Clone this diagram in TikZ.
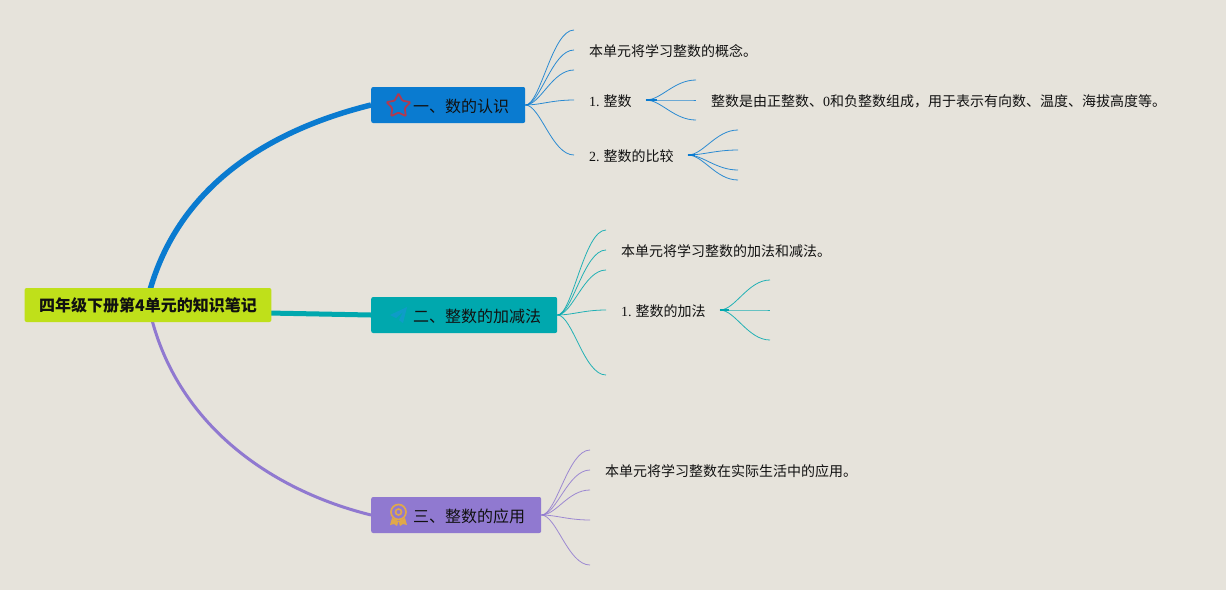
\documentclass[tikz,border=0pt]{standalone}
\usepackage{fontspec}
\usepackage{xcolor}
\setmainfont{Noto Sans CJK SC}
\newfontfamily\numfont{Liberation Serif}
\usetikzlibrary{shapes.geometric}
\definecolor{paper}{HTML}{E6E3DB}
\definecolor{lime}{HTML}{BFE01A}
\definecolor{blueA}{HTML}{0A7BD0}
\definecolor{tealB}{HTML}{00A8AE}
\definecolor{purpleC}{HTML}{9079D0}
\definecolor{inkT}{HTML}{111111}
\definecolor{starRed}{HTML}{B03A50}
\definecolor{planeBlue}{HTML}{0E9CC8}
\definecolor{medalGold}{HTML}{E0A84A}
\begin{document}
\begin{tikzpicture}[
    x=1pt, y=-1pt,
    rootbox/.style={fill=lime, rounded corners=2pt, minimum height=34pt, inner xsep=14.5pt, inner ysep=0pt, text=inkT, font=\fontsize{16}{18}\selectfont\bfseries},
    topic/.style={fill=#1, anchor=west, rounded corners=2pt, minimum height=36pt, inner xsep=16pt, inner ysep=0pt, text height=15.5pt, text depth=1pt, text=inkT, font=\fontsize{16}{18}\selectfont},
    note/.style={anchor=west, inner sep=0pt, text=inkT, font=\fontsize{14}{16}\selectfont},
    limb/.style={line width=#1},
    twig/.style={draw=#1, line width=0.8pt, draw opacity=0.85, out=0, in=180, out distance=15pt, in distance=22pt},
    stub/.style={draw=#1, line width=2pt}
]
\fill[paper] (0,0) rectangle (1226,590);
\useasboundingbox (0,0) rectangle (1226,590);

% main branches
\draw[blueA, limb=5.5pt] (150,290) .. controls (180,185) and (270,130) .. (371,105);
\draw[tealB, limb=5pt] (268,313) -- (371,315);
\draw[purpleC, limb=3pt] (152,320) .. controls (180,425) and (270,490) .. (371,515);

% nodes
\node[rootbox] (root) at (148,305) {四年级下册第4单元的知识笔记};
\node[topic=blueA] (topicA) at (371,105) {\hspace*{26pt}一、数的认识};
\node[topic=tealB] (topicB) at (371,315) {\hspace*{26pt}二、整数的加减法};
\node[topic=purpleC] (topicC) at (371,515) {\hspace*{26pt}三、整数的应用};

\node[note] (noteA) at (589,51) {本单元将学习整数的概念。};
\node[note] (intA) at (589,101) {{\numfont 1.}\hspace{4pt}整数};
\node[note] (defA) at (711,101) {整数是由正整数、{\numfont 0}和负整数组成，用于表示有向数、温度、海拔高度等。};
\node[note] (cmpA) at (589,156) {{\numfont 2.}\hspace{4pt}整数的比较};
\node[note] (noteB) at (621,251) {本单元将学习整数的加法和减法。};
\node[note] (addB) at (621,311) {{\numfont 1.}\hspace{4pt}整数的加法};
\node[note] (noteC) at (605,471) {本单元将学习整数在实际生活中的应用。};

% free ends
\coordinate (a1) at (574,30);
\coordinate (a2) at (574,50);
\coordinate (a3) at (574,70);
\coordinate (a4) at (574,100);
\coordinate (a5) at (574,155);
\coordinate (ia) at (646,100);
\coordinate (ia1) at (696,80);
\coordinate (ia2) at (696,100);
\coordinate (ia3) at (696,120);
\coordinate (ca) at (688,155);
\coordinate (ca1) at (738,130);
\coordinate (ca2) at (738,150);
\coordinate (ca3) at (738,170);
\coordinate (ca4) at (738,180);
\coordinate (b1) at (606,230);
\coordinate (b2) at (606,250);
\coordinate (b3) at (606,270);
\coordinate (b4) at (606,310);
\coordinate (b5) at (606,375);
\coordinate (ab) at (720,310);
\coordinate (ab1) at (770,280);
\coordinate (ab2) at (770,310);
\coordinate (ab3) at (770,340);
\coordinate (c1) at (590,450);
\coordinate (c2) at (590,470);
\coordinate (c3) at (590,490);
\coordinate (c4) at (590,520);
\coordinate (c5) at (590,565);

% thin branches
\draw[twig=blueA] (topicA.east) to (a1);
\draw[twig=blueA] (topicA.east) to (a2);
\draw[twig=blueA] (topicA.east) to (a3);
\draw[twig=blueA] (topicA.east) to (a4);
\draw[twig=blueA] (topicA.east) to (a5);
\draw[twig=blueA] (ia) to (ia1);
\draw[twig=blueA] (ia) to (ia2);
\draw[twig=blueA] (ia) to (ia3);
\draw[stub=blueA] (ia) -- +(11,0);
\draw[twig=blueA] (ca) to (ca1);
\draw[twig=blueA] (ca) to (ca2);
\draw[twig=blueA] (ca) to (ca3);
\draw[twig=blueA] (ca) to (ca4);
\draw[stub=blueA] (ca) -- +(7,0);
\draw[twig=tealB] (topicB.east) to (b1);
\draw[twig=tealB] (topicB.east) to (b2);
\draw[twig=tealB] (topicB.east) to (b3);
\draw[twig=tealB] (topicB.east) to (b4);
\draw[twig=tealB] (topicB.east) to (b5);
\draw[twig=tealB] (ab) to (ab1);
\draw[twig=tealB] (ab) to (ab2);
\draw[twig=tealB] (ab) to (ab3);
\draw[stub=tealB] (ab) -- +(9,0);
\draw[twig=purpleC] (topicC.east) to (c1);
\draw[twig=purpleC] (topicC.east) to (c2);
\draw[twig=purpleC] (topicC.east) to (c3);
\draw[twig=purpleC] (topicC.east) to (c4);
\draw[twig=purpleC] (topicC.east) to (c5);

% icons
\node[star, star points=5, star point ratio=1.9, draw=starRed, line width=1.8pt, rounded corners=1pt, minimum size=25pt, inner sep=0pt] (starA) at (398.5,106) {};
\fill[planeBlue] (407,307) -- (390,315) -- (396,318) -- (403,312) -- (399,320) -- (403,323) -- cycle;
\draw[medalGold, line width=1.7pt] (398.5,512) circle (7.5pt) (398.5,512) circle (3pt);
\fill[medalGold] (392,518) -- (390,525) -- (394,524) -- (397,526) -- (398.5,521) -- (400,526) -- (403,524) -- (407,525) -- (405,518) -- (398.5,521) -- cycle;
\end{tikzpicture}
\end{document}
